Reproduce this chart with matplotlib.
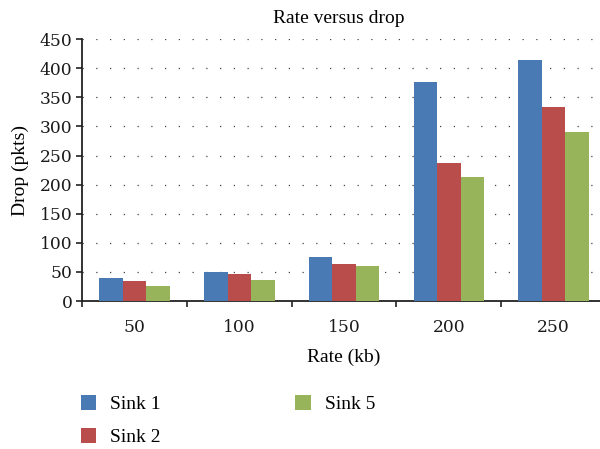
import numpy as np
import matplotlib.pyplot as plt
plt.switch_backend('Agg')

rates = ['50', '100', '150', '200', '250']
series_names = ['Sink 1', 'Sink 2', 'Sink 5']
sink1 = [40, 50, 76, 376, 414]
sink2 = [35, 47, 64, 238, 334]
sink5 = [26, 36, 60, 214, 291]
colors = ['#4a7ab4', '#b84d4b', '#98b45a']

plt.rcParams['font.family'] = ['Liberation Serif', 'DejaVu Serif']

fig = plt.figure(figsize=(6.0, 4.49), dpi=100)
ax = fig.add_axes([0.137, 0.3296, 0.873, 0.583])

x = np.arange(len(rates))
width = 0.224
handles = []
for i, (vals, name) in enumerate(zip([sink1, sink2, sink5], series_names)):
    b = ax.bar(x + (i - 1) * width, vals, width, color=colors[i], label=name, zorder=3)
    handles.append(b)

ax.set_xlim(-0.5, len(rates) - 0.5)
ax.set_ylim(0, 450)
ax.set_yticks(range(0, 451, 50))
ax.set_xticks(x)
ax.set_xticklabels(rates)
ax.set_xticks(np.arange(-0.5, len(rates), 1), minor=True)
ax.tick_params(axis='x', which='major', length=0, pad=13)
ax.tick_params(axis='x', which='minor', length=4, width=1.2, direction='out', color='#222222')
ax.tick_params(axis='y', length=4, width=1.2, pad=3, color='#222222', direction='out')
for lab in ax.get_xticklabels() + ax.get_yticklabels():
    lab.set_fontfamily('DejaVu Serif')
    lab.set_fontsize(12.3)
    lab.set_color('#1a1a1a')

ax.yaxis.grid(True, linestyle=(0, (1, 10)), color='#444444', linewidth=0.9, zorder=0)
ax.set_axisbelow(True)
for s in ['top', 'right']:
    ax.spines[s].set_visible(False)
for s in ['left', 'bottom']:
    ax.spines[s].set_linewidth(1.3)
    ax.spines[s].set_color('#222222')

ax.set_title('Rate versus drop', fontsize=14, pad=12, x=0.49)
ax.set_xlabel('Rate (kb)', fontsize=14, labelpad=9)
ax.set_ylabel('Drop (pkts)', fontsize=14, labelpad=8)

fig.legend(handles=handles, labels=series_names, ncol=2, loc='upper left',
           bbox_to_anchor=(0.105, 0.16), frameon=False, fontsize=14,
           handlelength=0.82, handleheight=0.82, columnspacing=6.9,
           labelspacing=0.75, handletextpad=0.72)

fig.savefig('out.png', dpi=100)
